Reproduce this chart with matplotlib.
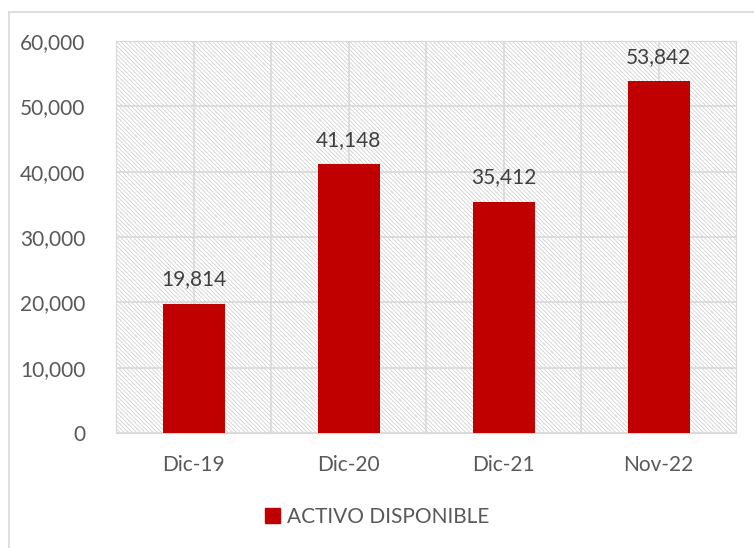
import numpy as np
import matplotlib
matplotlib.use('Agg')
import matplotlib.pyplot as plt
from matplotlib.patches import Rectangle, Patch
from matplotlib.lines import Line2D
from matplotlib.ticker import FuncFormatter

# data
periods = ['Dic-19', 'Dic-20', 'Dic-21', 'Nov-22']
activo = [19814, 41148, 35412, 53842]
series_name = 'ACTIVO DISPONIBLE'

plt.rcParams['font.family'] = ['Lato', 'DejaVu Sans']
plt.rcParams['hatch.linewidth'] = 0.5

red = '#C00000'
gray_txt = '#595959'
grid_c = '#d9d9d9'

fig = plt.figure(figsize=(7.54, 5.48), dpi=100)
ax = fig.add_axes([116/754, 115/548, 620/754, 392/548])

# hatched plot background
ax.add_patch(Rectangle((0, 0), 1, 1, transform=ax.transAxes, facecolor='white',
                       edgecolor='#c8c8c8', hatch='\\' * 8, linewidth=0, zorder=0))

x = np.arange(len(periods))
ax.bar(x, activo, width=0.4, color=red, zorder=3)
for xi, v in zip(x, activo):
    ax.text(xi, v + 2200, f'{v:,}', ha='center', va='bottom', fontsize=15, color='#404040')

ax.set_xlim(-0.5, 3.5)
ax.set_ylim(0, 60000)
ax.set_yticks(range(0, 60001, 10000))
ax.yaxis.set_major_formatter(FuncFormatter(lambda v, p: f'{int(v):,}'))
ax.set_xticks(x)
ax.set_xticklabels(periods)
ax.set_xticks(np.arange(0.5, 3.5, 1), minor=True)
ax.tick_params(axis='both', length=0, labelsize=15, colors=gray_txt)
ax.tick_params(axis='x', pad=16)
ax.tick_params(axis='y', pad=22)
ax.tick_params(which='minor', length=0)
ax.grid(True, which='both', color=grid_c, linewidth=1.2, zorder=1)
ax.set_axisbelow(True)
for s in ax.spines.values():
    s.set_color(grid_c)

leg = fig.legend([Patch(color=red)], [series_name], loc='center',
                 bbox_to_anchor=(0.5, 31/548), frameon=False, fontsize=15,
                 handlelength=0.75, handleheight=0.75, handletextpad=0.3)
for t in leg.get_texts():
    t.set_color(gray_txt)

# outer chart border (top and left visible)
fig.add_artist(Line2D([9/754, 9/754], [0, 1 - 12/548], color=grid_c, lw=1.2))
fig.add_artist(Line2D([9/754, 1], [1 - 12/548, 1 - 12/548], color=grid_c, lw=1.2))

fig.savefig('out.png', dpi=100)
